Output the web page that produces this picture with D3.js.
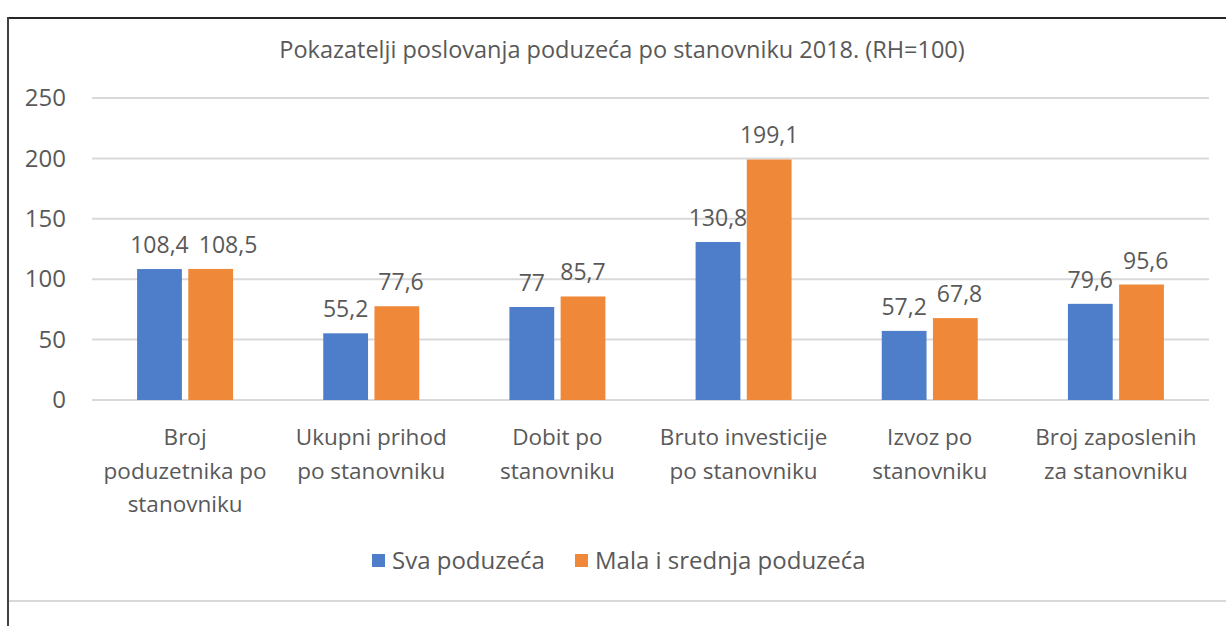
<!DOCTYPE html>
<html>
<head>
<meta charset="utf-8">
<script src="https://cdn.jsdelivr.net/npm/d3@7"></script>
<style>
  body { margin: 0; background: #fff; }
  text { font-family: "Open Sans", sans-serif; fill: #595959; }
</style>
</head>
<body>
<div id="chart"></div>
<script>
// chart values
var categories = [
  "Broj\npoduzetnika po\nstanovniku",
  "Ukupni prihod\npo stanovniku",
  "Dobit po\nstanovniku",
  "Bruto investicije\npo stanovniku",
  "Izvoz po\nstanovniku",
  "Broj zaposlenih\nza stanovniku"
];
var svaPoduzeca = [108.4, 55.2, 77, 130.8, 57.2, 79.6];
var malaSrednja = [108.5, 77.6, 85.7, 199.1, 67.8, 95.6];
var seriesNames = ["Sva poduzeća", "Mala i srednja poduzeća"];
var yTicks = [0, 50, 100, 150, 200, 250];
var colors = ["#4e7dc9", "#ef8839"];

var W = 1226, H = 626;
var margin = {top: 98, right: 17, bottom: 226, left: 92},
    width = W - margin.left - margin.right,
    height = H - margin.top - margin.bottom;

var svg = d3.select("#chart")
  .append("svg")
    .attr("width", W)
    .attr("height", H);

// frame of the chart object
svg.append("line").attr("x1", 8).attr("x2", W).attr("y1", 18).attr("y2", 18)
  .attr("stroke", "#262626").attr("stroke-width", 2);
svg.append("line").attr("x1", 8).attr("x2", 8).attr("y1", 17).attr("y2", H)
  .attr("stroke", "#404040").attr("stroke-width", 2);
svg.append("line").attr("x1", 9).attr("x2", W).attr("y1", 601).attr("y2", 601)
  .attr("stroke", "#d9d9d9").attr("stroke-width", 2);

svg.append("text")
  .attr("x", 622)
  .attr("y", 58)
  .attr("text-anchor", "middle")
  .style("font-size", "23.5px")
  .text("Pokazatelji poslovanja poduzeća po stanovniku 2018. (RH=100)");

var g = svg.append("g")
  .attr("transform", "translate(" + margin.left + "," + margin.top + ")");

var rows = categories.map(function(c, i) {
  return {cat: c, values: [svaPoduzeca[i], malaSrednja[i]]};
});

var x = d3.scaleBand()
  .domain(categories)
  .range([0, width]);

var y = d3.scaleLinear()
  .domain([0, 250])
  .range([height, 0]);

// gridlines
g.selectAll("line.grid")
  .data(yTicks)
  .enter()
  .append("line")
    .attr("class", "grid")
    .attr("x1", 0)
    .attr("x2", width)
    .attr("y1", function(d) { return y(d); })
    .attr("y2", function(d) { return y(d); })
    .attr("stroke", "#d9d9d9")
    .attr("stroke-width", 2);

// y axis labels
var yAxis = g.append("g")
  .attr("transform", "translate(-26,0)")
  .call(d3.axisLeft(y).tickValues(yTicks).tickSize(0).tickPadding(0));
yAxis.select(".domain").remove();
yAxis.selectAll("text")
  .style("font-size", "24px")
  .style("font-family", "'Open Sans', sans-serif")
  .attr("fill", "#595959");

// bars
var barW = 42, gap = 12;
var inner = d3.scaleBand()
  .domain([0, 1])
  .range([-(barW + gap / 2), barW + gap / 2])
  .paddingInner(gap / (2 * barW + gap));

var group = g.selectAll("g.cat")
  .data(rows)
  .enter()
  .append("g")
    .attr("class", "cat")
    .attr("transform", function(d) { return "translate(" + (x(d.cat) + x.bandwidth() / 2) + ",0)"; });

group.selectAll("rect")
  .data(function(d) { return d.values; })
  .enter()
  .append("rect")
    .attr("x", function(d, i) { return inner(i); })
    .attr("y", function(d) { return y(d); })
    .attr("width", inner.bandwidth())
    .attr("height", function(d) { return height - y(d); })
    .attr("fill", function(d, i) { return colors[i]; });

group.each(function() {
  var labels = d3.select(this).selectAll("text.val")
    .data(function(d) { return d.values; })
    .enter()
    .append("text")
      .attr("class", "val")
      .attr("x", function(d, i) { return inner(i) + inner.bandwidth() / 2; })
      .attr("y", function(d) { return y(d) - 16; })
      .attr("text-anchor", "middle")
      .style("font-size", "23px")
      .text(function(d) { return String(d).replace(".", ","); })
      .nodes();
  // push the right label over if the two labels sit at the same height and collide
  var a = labels[0].getBBox(), b = labels[1].getBBox();
  if (Math.abs(a.y - b.y) < a.height && a.x + a.width + 10 > b.x) {
    var shift = a.x + a.width + 10 - b.x;
    d3.select(labels[1]).attr("x", +d3.select(labels[1]).attr("x") + shift);
  }
});

// category labels
group.append("text")
  .attr("text-anchor", "middle")
  .style("font-size", "22.5px")
  .selectAll("tspan")
  .data(function(d) { return d.cat.split("\n"); })
  .enter()
  .append("tspan")
    .attr("x", 0)
    .attr("y", function(d, i) { return height + 45 + i * 33.5; })
    .text(function(d) { return d; });

// legend
var legendX = [372, 575];
var legend = svg.selectAll("g.legend")
  .data(seriesNames)
  .enter()
  .append("g")
    .attr("class", "legend")
    .attr("transform", function(d, i) { return "translate(" + legendX[i] + ",560)"; });
legend.append("rect")
  .attr("x", 0).attr("y", -6)
  .attr("width", 13).attr("height", 13)
  .attr("fill", function(d, i) { return colors[i]; });
legend.append("text")
  .attr("x", 20)
  .attr("y", 9)
  .style("font-size", "24px")
  .text(function(d) { return d; });
</script>
</body>
</html>
